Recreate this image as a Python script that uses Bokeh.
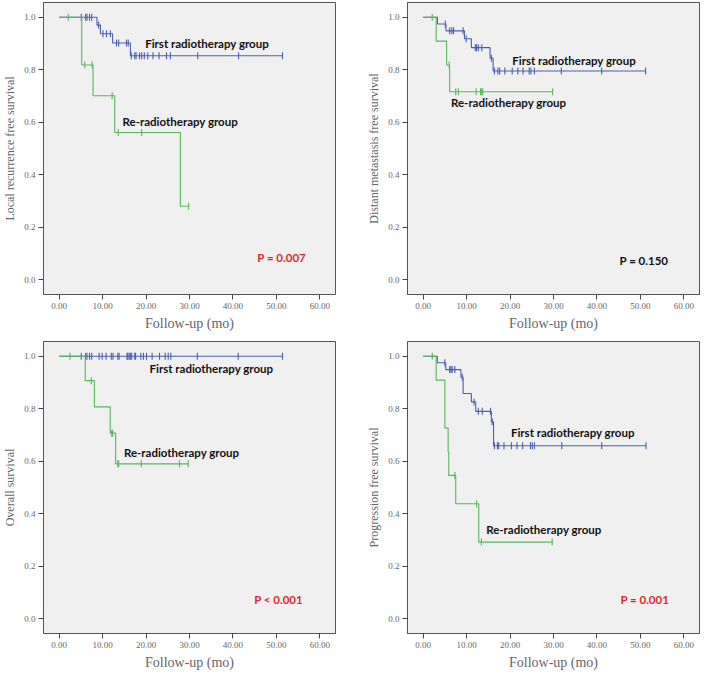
import numpy as np
from bokeh.plotting import figure
from bokeh.layouts import column, row
from bokeh.models import Range1d, Label, FixedTicker, PrintfTickFormatter
from bokeh.embed import file_html
from bokeh.resources import INLINE

# ---------------- data ----------------
# Panel 1: Local recurrence free survival
lrfs_first_t = [0, 8.7, 9.5, 12.3, 16.4, 51.4]
lrfs_first_s = [1.0, 0.970, 0.937, 0.902, 0.853, 0.853]
lrfs_first_c = [5.1, 6.1, 6.4, 7.0, 7.5, 9.1, 10.1, 10.9, 11.8, 13.2, 13.7, 15.5, 15.9,
                16.6, 17.4, 17.7, 18.5, 19.0, 19.6, 20.4, 21.6, 23.0, 24.7, 25.6, 31.9, 41.3, 51.4]
lrfs_re_t = [0, 5.2, 7.8, 12.8, 27.9, 29.8]
lrfs_re_s = [1.0, 0.818, 0.701, 0.561, 0.280, 0.280]
lrfs_re_c = [2.1, 5.9, 7.6, 12.2, 13.6, 19.0, 29.8]

# Panel 2: Distant metastasis free survival
dmfs_first_t = [0, 3.3, 5.25, 9.5, 11.1, 15.4, 16.1, 51.2]
dmfs_first_s = [1.0, 0.974, 0.948, 0.918, 0.884, 0.844, 0.795, 0.795]
dmfs_first_c = [5.1, 6.1, 6.6, 7.0, 9.2, 9.9, 12.0, 12.3, 12.7, 13.5, 15.7, 16.4, 17.2, 17.6,
                18.8, 20.5, 21.8, 23.0, 24.4, 24.8, 25.6, 31.8, 41.1, 51.2]
dmfs_re_t = [0, 3.0, 5.4, 6.1, 29.8]
dmfs_re_s = [1.0, 0.909, 0.818, 0.716, 0.716]
dmfs_re_c = [2.1, 6.0, 7.5, 8.1, 12.2, 13.2, 13.5, 13.7, 29.8]

# Panel 3: Overall survival
os_first_t = [0, 51.4]
os_first_s = [1.0, 1.0]
os_first_c = [5.1, 6.1, 6.4, 7.0, 7.5, 9.2, 9.9, 10.8, 12.0, 12.4, 13.5, 13.8, 15.6, 15.8,
              16.1, 16.4, 16.7, 17.4, 17.6, 18.8, 19.4, 20.1, 21.4, 23.1, 24.4, 25.1, 25.7,
              31.8, 41.2, 51.4]
os_re_t = [0, 6.0, 8.1, 11.75, 13.0, 29.7]
os_re_s = [1.0, 0.907, 0.807, 0.707, 0.590, 0.590]
os_re_c = [2.5, 7.4, 12.1, 12.3, 13.5, 13.7, 18.9, 27.7, 29.7]

# Panel 4: Progression free survival
pfs_first_t = [0, 3.26, 5.2, 8.7, 9.2, 11.1, 12.1, 15.7, 16.2, 51.3]
pfs_first_s = [1.0, 0.975, 0.949, 0.920, 0.858, 0.826, 0.790, 0.750, 0.659, 0.659]
pfs_first_c = [5.0, 6.1, 6.4, 6.7, 7.3, 9.0, 11.7, 12.7, 13.6, 15.5, 15.9, 16.4, 17.1, 17.4,
               18.6, 20.3, 21.6, 22.9, 24.7, 25.1, 25.6, 31.9, 41.1, 51.3]
pfs_re_t = [0, 3.0, 5.0, 5.75, 5.9, 7.5, 12.8, 29.7]
pfs_re_s = [1.0, 0.909, 0.727, 0.636, 0.546, 0.438, 0.292, 0.292]
pfs_re_c = [2.1, 7.3, 12.3, 13.4, 29.7]

x_ticks = [0, 10, 20, 30, 40, 50, 60]
y_ticks = [0.0, 0.2, 0.4, 0.6, 0.8, 1.0]

BLUE = "#4a5fae"
GREEN = "#58b65a"
SERIF = "Liberation Serif"
BOLD_FONT = "Lato"


def surv_at(ts, ss, cs):
    ts = np.asarray(ts)
    ss = np.asarray(ss)
    idx = np.searchsorted(ts, np.asarray(cs), side="right") - 1
    return ss[idx]


def make_panel(ylabel, first, re, pval, pcolor, first_xy, re_xy, p_xy,
               left, right, top, bottom):
    p = figure(frame_width=292, frame_height=292, output_backend="svg",
               toolbar_location=None, x_range=Range1d(-3.6, 63.6),
               y_range=Range1d(-0.056, 1.056),
               min_border_left=left, min_border_right=right,
               min_border_top=top, min_border_bottom=bottom)
    p.background_fill_color = "#f0f0f0"
    p.border_fill_color = "white"
    p.outline_line_color = "#555555"
    p.outline_line_width = 1
    p.grid.visible = False

    p.xaxis.ticker = FixedTicker(ticks=x_ticks)
    p.yaxis.ticker = FixedTicker(ticks=y_ticks)
    p.xaxis.formatter = PrintfTickFormatter(format="%.2f")
    p.yaxis.formatter = PrintfTickFormatter(format="%.1f")
    for ax in (p.xaxis[0], p.yaxis[0]):
        ax.axis_line_color = "#555555"
        ax.major_tick_line_color = "#444444"
        ax.major_tick_in = 0
        ax.major_tick_out = 5
        ax.minor_tick_line_color = None
        ax.major_label_text_font = SERIF
        ax.major_label_text_font_size = "9px"
        ax.major_label_text_color = "#666666"
        ax.major_label_standoff = 3
        ax.axis_label_text_font = SERIF
        ax.axis_label_text_font_style = "normal"
        ax.axis_label_text_color = "#666666"
        ax.axis_label_standoff = 4
    p.xaxis.axis_label = "Follow-up (mo)"
    p.xaxis.axis_label_text_font_size = "14px"
    p.yaxis.axis_label = ylabel
    p.yaxis.axis_label_text_font_size = "12px"

    for (ts, ss, cs), col in ((first, BLUE), (re, GREEN)):
        p.step(ts, ss, mode="after", line_color=col, line_width=1.1)
        p.scatter(cs, surv_at(ts, ss, cs), marker="dash", angle=np.pi / 2,
                  size=7, line_color=col, line_width=1.1)

    for txt, xy, col in (("First radiotherapy group", first_xy, "#111111"),
                         ("Re-radiotherapy group", re_xy, "#111111"),
                         (pval, p_xy, pcolor)):
        p.add_layout(Label(x=xy[0], y=xy[1], text=txt,
                           text_font=BOLD_FONT, text_font_style="bold",
                           text_font_size="11.5px", text_color=col,
                           text_baseline="middle", text_align="left"))
    return p


p1 = make_panel("Local recurrence free survival",
                (lrfs_first_t, lrfs_first_s, lrfs_first_c),
                (lrfs_re_t, lrfs_re_s, lrfs_re_c),
                "P = 0.007", "#e02a2a", (19.8, 0.899), (14.6, 0.602), (45.6, 0.084),
                32, 20, 2, 38)
p2 = make_panel("Distant metastasis free survival",
                (dmfs_first_t, dmfs_first_s, dmfs_first_c),
                (dmfs_re_t, dmfs_re_s, dmfs_re_c),
                "P = 0.150", "#111111", (20.5, 0.834), (6.4, 0.674), (45.2, 0.072),
                52, 2, 2, 38)
p3 = make_panel("Overall survival",
                (os_first_t, os_first_s, os_first_c),
                (os_re_t, os_re_s, os_re_c),
                "P < 0.001", "#e02a2a", (20.8, 0.952), (14.9, 0.633), (44.9, 0.075),
                32, 20, 8, 36)
p4 = make_panel("Progression free survival",
                (pfs_first_t, pfs_first_s, pfs_first_c),
                (pfs_re_t, pfs_re_s, pfs_re_c),
                "P = 0.001", "#e02a2a", (20.2, 0.708), (14.5, 0.341), (45.4, 0.075),
                52, 2, 8, 36)

layout = column(row(p1, p2), row(p3, p4))
open("out.html", "w").write(file_html(layout, INLINE))
